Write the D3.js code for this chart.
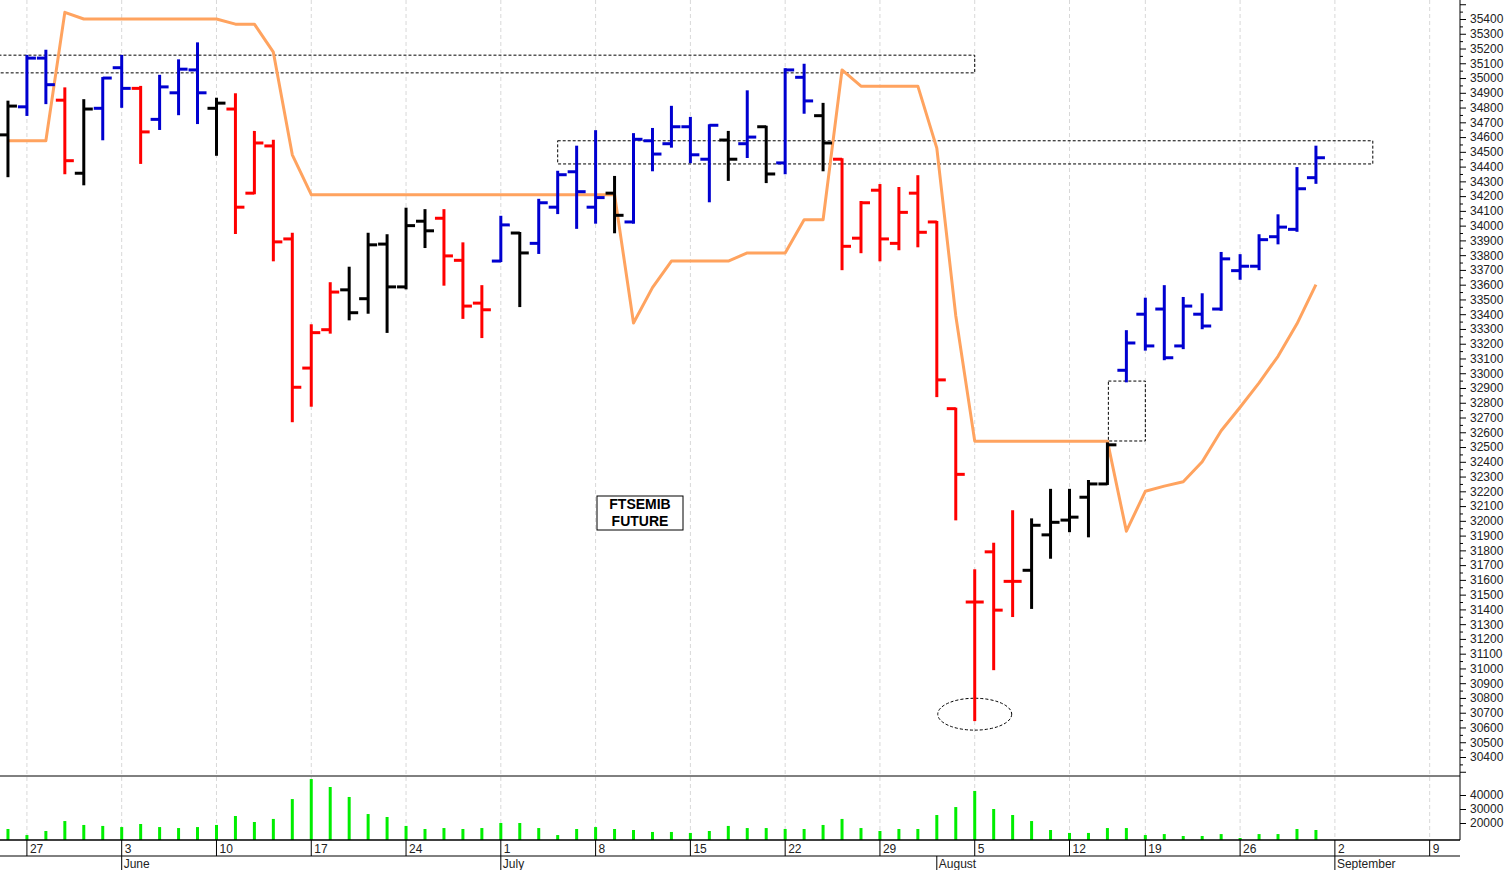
<!DOCTYPE html>
<html>
<head>
<meta charset="utf-8">
<script src="https://cdn.jsdelivr.net/npm/d3@7"></script>
<style>
  body { margin: 0; background: #fff; }
  svg { display: block; font-family: 'Liberation Sans', Arial, sans-serif; }
</style>
</head>
<body>
<svg id="chart" width="1508" height="870"></svg>
<script>
// daily bars, index 0 = 24 May 2024
const opens  = [34615,34805,35135,34850,34355,34795,35070,34930,34720,34900,35055,34795,34790,34220,34540,33910,33035,33295,33565,33505,
                33875,33585,34030,34050,33765,33475,33760,33950,33880,34125,34365,34125,34220,34025,34575,34555,34670,34450,34580,34555,
                34670,34425,35005,34745,34450,33915,34240,33880,34220,34025,32760,31450,31790,31590,31665,31905,32005,32160,32250,33020,
                33400,33435,33185,33400,33435,33695,33725,33925,33975,34325]
const highs  = [34840,35150,35185,34930,34850,35000,35150,34940,35015,35120,35235,34860,34890,34635,34575,33945,33325,33610,33715,33945,
                33935,34115,34105,34105,33880,33590,34060,33950,34175,34365,34535,34640,34330,34620,34655,34805,34730,34680,34635,34910,
                34670,35060,35090,34825,34450,34160,34275,34255,34335,34025,32760,31665,31845,32065,32010,32210,32210,32270,32525,33285,
                33505,33590,33510,33535,33815,33800,33935,34070,34390,34535]
const lows   = [34335,34750,34830,34355,34280,34585,34805,34425,34655,34755,34695,34480,33950,34220,33765,32675,32780,33275,33365,33410,
                33280,33575,33855,33600,33375,33245,33760,33455,33815,34085,33985,34020,33955,34020,34375,34535,34430,34165,34310,34465,
                34295,34355,34765,34375,33705,33820,33765,33840,33860,32845,32010,30650,30995,31355,31410,31750,31930,31895,32250,32945,
                33160,33095,33170,33305,33430,33640,33705,33880,33965,34290]
const closes = [34810,35135,34955,34440,34790,35000,34930,34635,34940,35060,34900,34830,34125,34560,33890,32905,33275,33550,33410,33870,
                33585,34000,33965,33795,33455,33430,34005,33815,34155,34345,34230,34190,34070,34585,34485,34670,34480,34680,34450,34600,
                34350,35055,34845,34560,33860,34155,33910,34090,33955,32955,32315,31450,31395,31590,31970,31990,32025,32250,32515,33205,
                33185,33105,33455,33320,33775,33725,33905,33990,34250,34460]
const trend  = 'kbbrkbbrbbbkrrrrrrkkkkkrrrbkbbbbkbbbbbkbkbbkrrrrrrrrrrkkkkkbbbbbbbbbbb'
const volumes = [15700,11400,14300,21400,18600,17900,17100,19300,17100,16400,17100,18600,25000,20700,22900,37100,51400,45700,38600,26400,
                 24300,17900,15700,16400,15700,16400,20000,20000,16400,11400,15700,17100,15700,15000,13600,13600,12900,14300,17900,16400,
                 16400,15700,15700,18600,22900,16400,14300,15700,15700,25700,31400,42900,30000,25700,21400,15000,12900,12900,16400,16400,
                 11400,12100,10700,10700,12100,9300,12100,12100,15700,15000]
const stopLine = [34575,34575,34575,35445,35400,35400,35400,35400,35400,35400,35400,35400,35365,35365,35175,34480,34210,34210,34210,34210,
                  34210,34210,34210,34210,34210,34210,34210,34210,34210,34210,34210,34210,34210,33340,33580,33760,33760,33760,33760,33815,
                  33815,33815,34040,34040,35055,34945,34945,34945,34945,34525,33390,32540,32540,32540,32540,32540,32540,32540,32540,31930,
                  32200,32235,32265,32400,32610,32770,32935,33115,33335,33600]

const weekIdx    = [1,6,11,16,21,26,31,36,41,46,51,56,60,65,70,75]
const weekLabels = ['27','3','10','17','24','1','8','15','22','29','5','12','19','26','2','9']
const monthIdx    = [6,26,49,70]
const monthLabels = ['June','July','August','September']
const volTicks = [20000,30000,40000]

// annotations: [idx0, idx1, value0, value1]
const boxes = [[-0.5,51,35155,35035],[29,72,34575,34418],[58.05,60,32947,32541]]
const ellipse = {idx: 51, value: 30690, rIdx: 1.95, rValue: 108}

const colors = { k: '#000000', b: '#0000d0', r: '#ff0000' }
const axisX = 1460

const svg = d3.select('#chart')
const x = d3.scaleLinear().domain([-0.42, 76.6]).range([0, axisX])
const y = d3.scaleLinear().domain([30400, 35400]).range([757, 19])
const yv = d3.scaleLinear().domain([0, 40000]).range([851, 795])

// vertical week grid
svg.append('g')
  .selectAll('line')
  .data(weekIdx)
  .enter()
  .append('line')
  .attr('x1', d => x(d)).attr('x2', d => x(d))
  .attr('y1', 0).attr('y2', 840)
  .attr('stroke', '#d8d8d8')
  .attr('stroke-dasharray', '4,3')

// annotations
svg.append('g')
  .selectAll('rect')
  .data(boxes)
  .enter()
  .append('rect')
  .attr('x', d => x(d[0]))
  .attr('y', d => y(d[2]))
  .attr('width', d => x(d[1]) - x(d[0]))
  .attr('height', d => y(d[3]) - y(d[2]))
  .attr('fill', 'none')
  .attr('stroke', '#000')
  .attr('stroke-dasharray', '3,2')
svg.append('ellipse')
  .attr('cx', x(ellipse.idx))
  .attr('cy', y(ellipse.value))
  .attr('rx', x(ellipse.rIdx) - x(0))
  .attr('ry', y(0) - y(ellipse.rValue))
  .attr('fill', 'none')
  .attr('stroke', '#000')
  .attr('stroke-dasharray', '3,2')

// orange line
svg.append('path')
  .datum(stopLine)
  .attr('fill', 'none')
  .attr('stroke', '#ffa35f')
  .attr('stroke-width', 3)
  .attr('stroke-linejoin', 'round')
  .attr('d', d3.line().x((d, i) => x(i)).y(d => y(d)))

// OHLC bars
const bars = svg.append('g').attr('stroke-width', 3)
opens.forEach((o, i) => {
  const c = colors[trend[i]]
  const cx = x(i)
  bars.append('line').attr('x1', cx).attr('x2', cx)
    .attr('y1', y(highs[i]) - 1).attr('y2', y(lows[i]) + 1).attr('stroke', c)
  bars.append('line').attr('x1', cx - 9).attr('x2', cx)
    .attr('y1', y(o)).attr('y2', y(o)).attr('stroke', c)
  bars.append('line').attr('x1', cx).attr('x2', cx + 9)
    .attr('y1', y(closes[i])).attr('y2', y(closes[i])).attr('stroke', c)
})

// volume
svg.append('g')
  .selectAll('line')
  .data(volumes)
  .enter()
  .append('line')
  .attr('x1', (d, i) => x(i)).attr('x2', (d, i) => x(i))
  .attr('y1', 840).attr('y2', d => yv(d))
  .attr('stroke', '#00ee00')
  .attr('stroke-width', 3)

// panel frame lines
const frame = svg.append('g').attr('stroke', '#000')
frame.append('line').attr('x1', 0).attr('x2', axisX).attr('y1', 776).attr('y2', 776)
frame.append('line').attr('x1', 0).attr('x2', axisX).attr('y1', 840).attr('y2', 840).attr('stroke-width', 1.5)
frame.append('line').attr('x1', 0).attr('x2', axisX).attr('y1', 856).attr('y2', 856)
frame.append('line').attr('x1', axisX).attr('x2', axisX).attr('y1', 0).attr('y2', 840)

// price axis
const priceTicks = d3.range(30300, 35600, 100)
const ya = svg.append('g')
  .attr('transform', 'translate(' + axisX + ',0)')
  .call(d3.axisRight(y).tickValues(priceTicks).tickSize(6).tickPadding(4)
    .tickFormat(d => (d >= 30400 && d <= 35400) ? d : ''))
ya.select('.domain').remove()
ya.selectAll('text').attr('font-size', 12).attr('fill', '#222').attr('font-family', 'Liberation Sans, Arial')
svg.append('g')
  .attr('transform', 'translate(' + axisX + ',0)')
  .call(d3.axisRight(y).tickValues(d3.range(30350, 35550, 100)).tickSize(3).tickFormat(''))
  .select('.domain').remove()

// volume axis
const va = svg.append('g')
  .attr('transform', 'translate(' + axisX + ',0)')
  .call(d3.axisRight(yv).tickValues(volTicks).tickSize(6).tickPadding(4).tickFormat(d3.format('d')))
va.select('.domain').remove()
va.selectAll('text').attr('font-size', 12).attr('fill', '#222').attr('font-family', 'Liberation Sans, Arial')

// date axis
const dates = svg.append('g').attr('font-size', 12).attr('fill', '#222')
weekIdx.forEach((d, i) => {
  dates.append('line').attr('x1', x(d)).attr('x2', x(d)).attr('y1', 840).attr('y2', 856).attr('stroke', '#000')
  dates.append('text').attr('x', x(d) + 3).attr('y', 853).text(weekLabels[i])
})
monthIdx.forEach((d, i) => {
  dates.append('line').attr('x1', x(d)).attr('x2', x(d)).attr('y1', 856).attr('y2', 870).attr('stroke', '#000')
  dates.append('text').attr('x', x(d) + 2).attr('y', 868).text(monthLabels[i])
})

// title box
const tb = svg.append('g').attr('transform', 'translate(640,513)')
tb.append('rect').attr('x', -43).attr('y', -17).attr('width', 86).attr('height', 34)
  .attr('fill', '#fff').attr('stroke', '#000')
tb.append('text').attr('text-anchor', 'middle').attr('y', -4)
  .attr('font-size', 14).attr('font-weight', 'bold').text('FTSEMIB')
tb.append('text').attr('text-anchor', 'middle').attr('y', 13)
  .attr('font-size', 14).attr('font-weight', 'bold').text('FUTURE')
</script>
</body>
</html>
